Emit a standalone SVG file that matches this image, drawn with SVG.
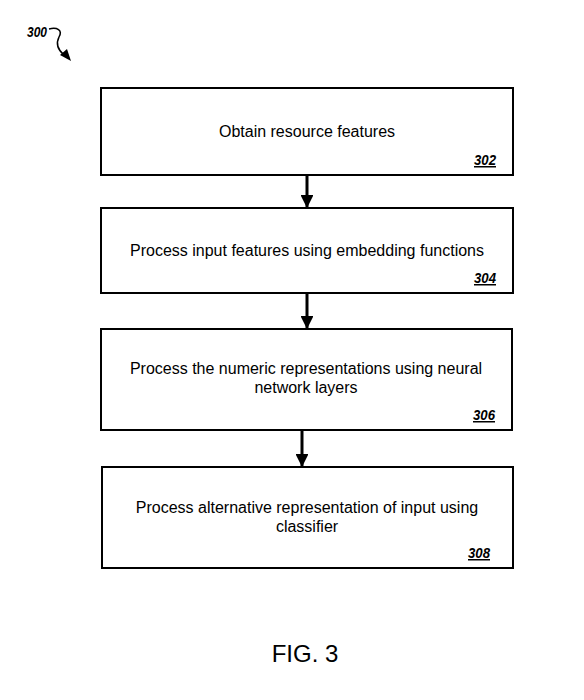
<svg xmlns="http://www.w3.org/2000/svg" width="584" height="700" viewBox="0 0 584 700">
<style>
.box{fill:#fff;stroke:#000;stroke-width:2}
.t{font-family:"Liberation Sans",Arial,sans-serif;font-size:16px;fill:#000;text-anchor:middle}
.ref{font-family:"Liberation Sans",Arial,sans-serif;font-size:15px;font-weight:bold;font-style:italic;text-decoration:underline;fill:#000;text-anchor:end}
.conn{stroke:#000;stroke-width:3;fill:none}
</style>
<defs>
<marker id="ah" markerWidth="4.3" markerHeight="4.3" refX="4" refY="2.15" orient="auto" markerUnits="strokeWidth">
<path d="M0,0 L4.3,2.15 L0,4.3 Z" fill="#000"/>
</marker>
</defs>
<rect width="584" height="700" fill="#fff"/>
<g id="label300">
<text x="27" y="37" style="font-family:'Liberation Sans',Arial,sans-serif;font-size:14px;font-weight:bold;font-style:italic" textLength="20" lengthAdjust="spacingAndGlyphs">300</text>
<path d="M49,29 C57,27 63,30 59,37 C56,43 57,49 64,55" stroke="#000" stroke-width="1.5" fill="none"/>
<polygon points="71,61 60,55 67,49" fill="#000"/>
</g>
<g id="node302">
<rect class="box" x="101" y="88" width="412" height="87"/>
<text class="t" x="307" y="137">Obtain resource features</text>
<text class="ref" x="496" y="165" textLength="22" lengthAdjust="spacingAndGlyphs">302</text>
</g>
<g id="node304">
<rect class="box" x="101" y="208" width="412" height="85"/>
<text class="t" x="307" y="256">Process input features using embedding functions</text>
<text class="ref" x="496" y="283" textLength="22" lengthAdjust="spacingAndGlyphs">304</text>
</g>
<g id="node306">
<rect class="box" x="101" y="329" width="411" height="101"/>
<text class="t" x="306" y="374">Process the numeric representations using neural</text>
<text class="t" x="306" y="393">network layers</text>
<text class="ref" x="495" y="420" textLength="22" lengthAdjust="spacingAndGlyphs">306</text>
</g>
<g id="node308">
<rect class="box" x="102" y="467" width="411" height="101"/>
<text class="t" x="307" y="513">Process alternative representation of input using</text>
<text class="t" x="307" y="532">classifier</text>
<text class="ref" x="490" y="558" textLength="22" lengthAdjust="spacingAndGlyphs">308</text>
</g>
<g id="connectors">
<line class="conn" x1="307" y1="176" x2="307" y2="207" marker-end="url(#ah)"/>
<line class="conn" x1="307" y1="294" x2="307" y2="328" marker-end="url(#ah)"/>
<line class="conn" x1="302" y1="431" x2="302" y2="466" marker-end="url(#ah)"/>
</g>
<text x="305" y="662" style="font-family:'Liberation Sans',Arial,sans-serif;font-size:24px;text-anchor:middle">FIG. 3</text>
</svg>
